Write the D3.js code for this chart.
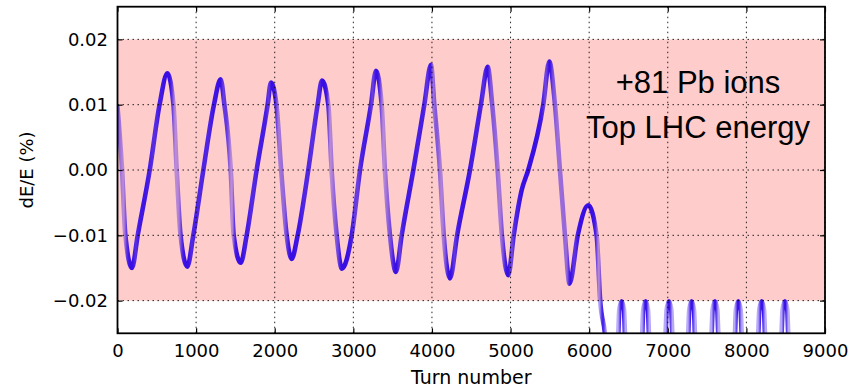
<!DOCTYPE html>
<html>
<head>
<meta charset="utf-8">
<script src="https://cdn.jsdelivr.net/npm/d3@7"></script>
<style>
  html, body { margin: 0; padding: 0; background: #fff; }
  svg { display: block; }
</style>
</head>
<body>
<svg id="chart" width="858" height="392"></svg>
<script>
// Energy offset dE/E (%) of the tracked ion versus turn number.
// Synchrotron oscillation inside the bucket, then loss below the acceptance.
const turns = [
  0, 58, 100, 184, 257, 410, 535, 634, 712, 753, 802,
  888, 964, 1092, 1227, 1312, 1360, 1440, 1478,
  1567, 1643, 1770, 1910, 1952, 2022, 2082, 2152,
  2215, 2292, 2427, 2546, 2601, 2682, 2724, 2788,
  2855, 2979, 3085, 3225, 3288, 3360, 3402, 3466,
  3542, 3615, 3763, 3903, 3988, 4030, 4102, 4150,
  4229, 4320, 4484, 4623, 4709, 4767, 4836, 4890,
  4971, 5040, 5141, 5225, 5416, 5493, 5565, 5628, 5692,
  5750, 5855, 5988, 6095, 6140, 6200, 6285,
  6371, 6383, 6413, 6443, 6455, 6565,
  6676, 6688, 6718, 6748, 6760, 6866,
  6973, 6985, 7015, 7045, 7057, 7159,
  7261, 7273, 7303, 7333, 7345, 7451,
  7558, 7570, 7600, 7630, 7642, 7748,
  7855, 7867, 7897, 7927, 7939, 8045,
  8152, 8164, 8194, 8224, 8236, 8342,
  8448, 8460, 8490, 8520, 8532, 8600
];
const deltaE = [
  0.0097, 0.0, -0.0100, -0.0150, -0.0100, 0.0, 0.0100, 0.0148, 0.0100, 0.0, -0.0100,
  -0.0148, -0.0100, 0.0, 0.0100, 0.0139, 0.0100, 0.0, -0.0100,
  -0.0142, -0.0100, 0.0, 0.0100, 0.0134, 0.0100, 0.0, -0.0100,
  -0.0136, -0.0100, 0.0, 0.0100, 0.0137, 0.0100, 0.0, -0.0100,
  -0.0151, -0.0100, 0.0, 0.0100, 0.0152, 0.0100, 0.0, -0.0100,
  -0.0156, -0.0100, 0.0, 0.0100, 0.0161, 0.0100, 0.0, -0.0100,
  -0.0166, -0.0100, 0.0, 0.0100, 0.0158, 0.0100, 0.0, -0.0100,
  -0.0161, -0.0100, -0.0031, 0.0, 0.0100, 0.0166, 0.0100, 0.0, -0.0100,
  -0.0174, -0.0100, -0.0054, -0.0100, -0.0200, -0.0250, -0.0400,
  -0.0250, -0.0214, -0.0201, -0.0214, -0.0250, -0.0400,
  -0.0250, -0.0214, -0.0201, -0.0214, -0.0250, -0.0400,
  -0.0250, -0.0214, -0.0201, -0.0214, -0.0250, -0.0400,
  -0.0250, -0.0214, -0.0201, -0.0214, -0.0250, -0.0400,
  -0.0250, -0.0214, -0.0201, -0.0214, -0.0250, -0.0400,
  -0.0250, -0.0214, -0.0201, -0.0214, -0.0250, -0.0400,
  -0.0250, -0.0214, -0.0201, -0.0214, -0.0250, -0.0400,
  -0.0250, -0.0214, -0.0201, -0.0214, -0.0250, -0.0400
];
const xTicks = [0, 1000, 2000, 3000, 4000, 5000, 6000, 7000, 8000, 9000];
const yTicks = [-0.02, -0.01, 0.00, 0.01, 0.02];
const xDomain = [0, 9000];
const yDomain = [-0.025, 0.025];
const acceptance = [-0.02, 0.02];
const noteLines = ["+81 Pb ions", "Top LHC energy"];
const xTitle = "Turn number";
const yTitle = "dE/E (%)";

const W = 858, H = 392;
const plot = { left: 117.5, right: 825, top: 6.7, bottom: 333.3 };

const svg = d3.select("#chart");
const x = d3.scaleLinear().domain(xDomain).range([plot.left, plot.right]);
const y = d3.scaleLinear().domain(yDomain).range([plot.bottom, plot.top]);

const defs = svg.append("defs");
defs.append("clipPath").attr("id", "plotClip")
  .append("rect")
  .attr("x", plot.left).attr("y", plot.top)
  .attr("width", plot.right - plot.left).attr("height", plot.bottom - plot.top);

svg.append("rect").attr("width", W).attr("height", H).attr("fill", "#fff");

// acceptance band
svg.append("rect")
  .attr("x", plot.left).attr("width", plot.right - plot.left)
  .attr("y", y(acceptance[1])).attr("height", y(acceptance[0]) - y(acceptance[1]))
  .attr("fill", "#ffcccc");

// trajectory
const points = turns.map((t, i) => [t, deltaE[i]]);
const line = d3.line().x(d => x(d[0])).y(d => y(d[1])).curve(d3.curveMonotoneX);
const traceColor = "#2a00e6";

const trail = svg.append("g").attr("clip-path", "url(#plotClip)")
  .append("path")
  .attr("d", line(points))
  .attr("fill", "none")
  .attr("stroke", traceColor)
  .attr("stroke-width", 4.6)
  .attr("stroke-linejoin", "round")
  .attr("stroke-linecap", "round");

// Turns are sampled uniformly in x, so the trace looks denser where it moves slowly:
// shade each pixel column by how much arc length the curve covers in it.
(function shadeByDensity() {
  const node = trail.node();
  const total = node.getTotalLength();
  const lo = new Array(W).fill(Infinity), hi = new Array(W).fill(-Infinity);
  for (let L = 0; L <= total; L += 0.5) {
    const p = node.getPointAtLength(L);
    const c = Math.floor(p.x);
    if (c < 0 || c >= W) continue;
    if (p.y < lo[c]) lo[c] = p.y;
    if (p.y > hi[c]) hi[c] = p.y;
  }
  const raw = [];
  for (let c = 0; c < W; c++) {
    if (lo[c] === Infinity) { raw.push(null); continue; }
    const e = hi[c] - lo[c];
    const d = 1 / Math.sqrt(1 + e * e);
    const t = 1 - Math.exp(-60 * Math.pow(d, 1.9));
    raw.push(0.2 + (0.93 - 0.2) * t);
  }
  const grad = defs.append("linearGradient")
    .attr("id", "trailShade").attr("gradientUnits", "userSpaceOnUse")
    .attr("x1", 0).attr("x2", W).attr("y1", 0).attr("y2", 0);
  for (let c = 0; c < W; c++) {
    if (raw[c] === null) continue;
    let s = 0, n = 0;
    for (let k = -1; k <= 1; k++) {
      const v = raw[c + k];
      if (v !== undefined && v !== null) { s += v; n++; }
    }
    grad.append("stop")
      .attr("offset", (c + 0.5) / W)
      .attr("stop-color", traceColor)
      .attr("stop-opacity", s / n);
  }
  trail.attr("stroke", "url(#trailShade)");
})();

// dotted grid
const grid = svg.append("g").attr("stroke", "#000").attr("stroke-width", 1)
  .attr("stroke-dasharray", "1.5,3.5").attr("opacity", 0.85);
grid.selectAll(".gx").data(xTicks).join("line")
  .attr("x1", d => x(d)).attr("x2", d => x(d))
  .attr("y1", plot.top).attr("y2", plot.bottom);
grid.selectAll(".gy").data(yTicks).join("line")
  .attr("x1", plot.left).attr("x2", plot.right)
  .attr("y1", d => y(d)).attr("y2", d => y(d));

// inward ticks on all four sides (negative size points them into the plot)
const tickLen = 5;
[
  [d3.axisBottom(x).tickValues(xTicks), `translate(0,${plot.bottom})`],
  [d3.axisTop(x).tickValues(xTicks), `translate(0,${plot.top})`],
  [d3.axisLeft(y).tickValues(yTicks), `translate(${plot.left},0)`],
  [d3.axisRight(y).tickValues(yTicks), `translate(${plot.right},0)`]
].forEach(([ax, tr]) => {
  const g = svg.append("g").attr("transform", tr)
    .call(ax.tickSize(-tickLen).tickFormat(""));
  g.select(".domain").remove();
  g.selectAll(".tick line").attr("stroke", "#000").attr("stroke-width", 1.2);
});

// frame
svg.append("rect")
  .attr("x", plot.left).attr("y", plot.top)
  .attr("width", plot.right - plot.left).attr("height", plot.bottom - plot.top)
  .attr("fill", "none").attr("stroke", "#000").attr("stroke-width", 1.8);

// tick labels
const fmtY = v => d3.format(".2f")(v).replace("-", "\u2212");
const xLab = svg.append("g").attr("transform", `translate(0,${plot.bottom})`)
  .call(d3.axisBottom(x).tickValues(xTicks).tickSize(0).tickPadding(0).tickFormat(d3.format("d")));
xLab.select(".domain").remove();
xLab.selectAll("text").attr("y", 23.4).attr("dy", null)
  .attr("font-family", "DejaVu Sans").attr("font-size", 18).attr("fill", "#000");

const yLab = svg.append("g").attr("transform", `translate(${plot.left},0)`)
  .call(d3.axisLeft(y).tickValues(yTicks).tickSize(0).tickPadding(9.5).tickFormat(fmtY));
yLab.select(".domain").remove();
yLab.selectAll("text")
  .attr("font-family", "DejaVu Sans").attr("font-size", 18).attr("fill", "#000");

// axis titles
svg.append("text")
  .attr("x", (plot.left + plot.right) / 2).attr("y", 383.5)
  .attr("text-anchor", "middle")
  .attr("font-family", "DejaVu Sans").attr("font-size", 19).attr("fill", "#000")
  .text(xTitle);
svg.append("text")
  .attr("transform", `translate(33,${(plot.top + plot.bottom) / 2}) rotate(-90)`)
  .attr("text-anchor", "middle")
  .attr("font-family", "DejaVu Sans").attr("font-size", 18).attr("fill", "#000")
  .text(yTitle);

// annotation
svg.append("g").selectAll("text").data(noteLines).join("text")
  .attr("x", 698).attr("y", (d, i) => 92.7 + i * 45)
  .attr("text-anchor", "middle")
  .attr("font-family", "Liberation Sans, Arial, sans-serif").attr("font-size", 31)
  .attr("fill", "#000")
  .text(d => d);
</script>
</body>
</html>
